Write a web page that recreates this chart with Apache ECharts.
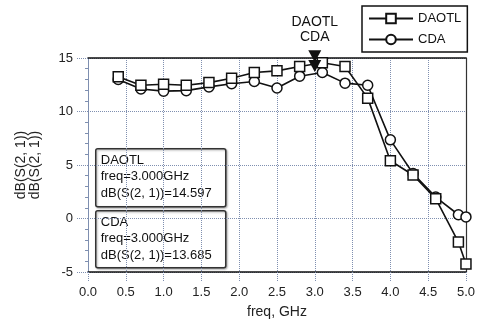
<!DOCTYPE html>
<html><head><meta charset="utf-8">
<script src="https://cdn.jsdelivr.net/npm/echarts@6/dist/echarts.min.js"></script>
<style>html,body{margin:0;padding:0;background:#fff}#c{width:478px;height:326px}</style>
</head><body><div id="c"></div>
<script>
var freq = [0.4,0.7,1.0,1.3,1.6,1.9,2.2,2.5,2.8,3.1,3.4,3.7,4.0,4.3,4.6,4.9,5.0];
var daotl = [13.25,12.45,12.55,12.45,12.7,13.1,13.65,13.8,14.2,14.55,14.2,11.25,5.4,4.07,1.85,-2.2,-4.25];
var cda = [13.0,12.1,11.9,11.95,12.3,12.6,12.8,12.2,13.3,13.65,12.65,12.45,7.35,4.2,2.0,0.35,0.15];
var xTicks = [0.0,0.5,1.0,1.5,2.0,2.5,3.0,3.5,4.0,4.5,5.0];
var yTicks = [-5,0,5,10,15];
var markerFreq = 3.0;
var markerDAOTL = 14.597;
var markerCDA = 13.685;

var FONT = 'Liberation Sans';
var gridColor = '#7f8fb0';
function pairs(xs, ys){ return xs.map(function(x,i){return [x, ys[i]];}); }

var chart = echarts.init(document.getElementById('c'), null, {renderer:'canvas'});
var boxText = function(name, val){ return name + '\nfreq=' + markerFreq.toFixed(3) + 'GHz\ndB(S(2, 1))=' + val.toFixed(3); };
chart.setOption({
  animation:false,
  backgroundColor:'#fff',
  textStyle:{fontFamily:FONT},
  grid:{left:88, right:10, top:58, bottom:54},
  legend:{
    left:362, top:6, width:106, height:46,
    orient:'vertical', itemGap:8, padding:[6,6,6,6],
    borderColor:'#111', borderWidth:1.5, backgroundColor:'#fff',
    itemWidth:44, itemHeight:12,
    textStyle:{fontFamily:FONT, fontSize:13, color:'#111'},
    data:['DAOTL','CDA']
  },
  xAxis:[{
    type:'value', min:0, max:5, interval:0.5,
    axisLine:{show:true, onZero:false, lineStyle:{color:'#111', width:1.5}},
    axisTick:{show:true, length:10, lineStyle:{color:gridColor, type:'dotted'}},
    axisLabel:{fontFamily:FONT, fontSize:13, color:'#222', margin:14, formatter:function(v){return v.toFixed(1);}},
    splitLine:{show:true, lineStyle:{color:gridColor, type:'dotted', width:1}},
    name:'freq, GHz', nameLocation:'middle', nameGap:33,
    nameTextStyle:{fontFamily:FONT, fontSize:14, color:'#222'}
  },{
    type:'value', position:'top', min:0, max:5,
    axisLine:{show:true, onZero:false, lineStyle:{color:'#111', width:1.5}},
    axisTick:{show:false}, axisLabel:{show:false}, splitLine:{show:false}
  }],
  yAxis:[{
    type:'value', min:-5, max:15, interval:5,
    axisLine:{show:true, onZero:false, lineStyle:{color:gridColor, type:'dotted'}},
    axisTick:{show:true, length:11, lineStyle:{color:gridColor, type:'dotted'}},
    minorTick:{show:true, splitNumber:5, length:3, lineStyle:{color:gridColor}},
    axisLabel:{fontFamily:FONT, fontSize:13, color:'#222', margin:15},
    splitLine:{show:true, lineStyle:{color:gridColor, type:'dotted', width:1}},
    name:'dB(S(2, 1))\ndB(S(2, 1))', nameLocation:'middle', nameGap:46,
    nameTextStyle:{fontFamily:FONT, fontSize:14, color:'#222', lineHeight:14}
  },{
    type:'value', position:'right', min:-5, max:15,
    axisLine:{show:true, onZero:false, lineStyle:{color:'#333', width:1.2}},
    axisTick:{show:false}, axisLabel:{show:false}, splitLine:{show:false}
  }],
  series:[{
    name:'DAOTL', type:'line', data:pairs(freq, daotl),
    symbol:'rect', symbolSize:10, z:3,
    lineStyle:{color:'#111', width:1.6},
    itemStyle:{color:'#fff', borderColor:'#111', borderWidth:1.5},
    markPoint:{
      symbol:'triangle', symbolSize:[13,12], symbolRotate:180, symbolOffset:[0,-6],
      itemStyle:{color:'#111'},
      label:{show:true, position:'top', distance:6, formatter:'DAOTL\nCDA',
        fontFamily:FONT, fontSize:14, color:'#111', lineHeight:15},
      data:[{coord:[markerFreq, markerDAOTL]}]
    }
  },{
    name:'CDA', type:'line', data:pairs(freq, cda),
    symbol:'circle', symbolSize:10, z:2,
    lineStyle:{color:'#111', width:1.6},
    itemStyle:{color:'#fff', borderColor:'#111', borderWidth:1.5},
    markPoint:{
      symbol:'triangle', symbolSize:[13,12], symbolRotate:180, symbolOffset:[0,-6],
      itemStyle:{color:'#111'}, label:{show:false},
      data:[{coord:[markerFreq, markerCDA]}]
    }
  }],
  graphic:[{
    type:'group', left:95, top:148, z:100,
    children:[{
      type:'rect', shape:{x:0,y:0,width:130,height:58,r:2},
      style:{fill:'#fff', stroke:'#333', lineWidth:1.5, shadowBlur:2, shadowOffsetX:1, shadowOffsetY:1, shadowColor:'rgba(0,0,0,0.3)'}
    },{
      type:'text', x:5, y:3,
      style:{text:boxText('DAOTL', markerDAOTL), font:'13px "Liberation Sans"', fill:'#111', lineHeight:16.5}
    }]
  },{
    type:'group', left:95, top:210, z:100,
    children:[{
      type:'rect', shape:{x:0,y:0,width:130,height:57,r:2},
      style:{fill:'#fff', stroke:'#333', lineWidth:1.5, shadowBlur:2, shadowOffsetX:1, shadowOffsetY:1, shadowColor:'rgba(0,0,0,0.3)'}
    },{
      type:'text', x:5, y:3,
      style:{text:boxText('CDA', markerCDA), font:'13px "Liberation Sans"', fill:'#111', lineHeight:16.5}
    }]
  }]
});
</script></body></html>
